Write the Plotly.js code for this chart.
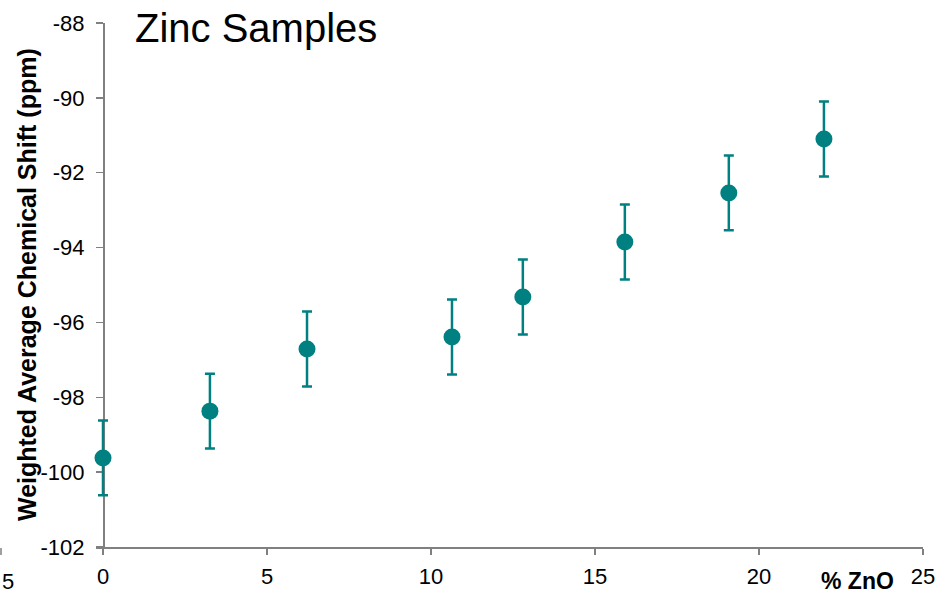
<!DOCTYPE html>
<html><head><meta charset="utf-8">
<script src="https://cdn.plot.ly/plotly-3.0.1.min.js"></script>
<style>html,body{margin:0;padding:0;background:#fff}#chart{width:938px;height:598px}</style>
</head><body><div id="chart"></div>
<script>
const znoPercent = [0, 3.26, 6.22, 10.64, 12.8, 15.91, 19.08, 21.98];
const chemShift = [-99.62, -98.37, -96.71, -96.39, -95.32, -93.85, -92.54, -91.1];
const shiftError = [1, 1, 1, 1, 1, 1, 1, 1];
const xTicks = [0, 5, 10, 15, 20, 25];
const yTicks = [-102, -100, -98, -96, -94, -92, -90, -88];

const teal = '#008080';
const trace = {
  x: znoPercent, y: chemShift, type: 'scatter', mode: 'markers',
  marker: {color: teal, size: 17},
  error_y: {type: 'data', array: shiftError, visible: true, color: teal, thickness: 2.5, width: 5},
  cliponaxis: false,
  hoverinfo: 'x+y'
};
const L = 96, W = 938 - 15 - L;           // plot area left and width in px
const px = p => (p - L) / W;               // pixel -> paper x
const font = {family: 'Liberation Sans, Arial, sans-serif', color: '#000'};
const layout = {
  width: 938, height: 598,
  margin: {l: L, r: 15, t: 23, b: 51, pad: 0},
  paper_bgcolor: '#fff', plot_bgcolor: '#fff',
  showlegend: false,
  font: Object.assign({size: 22}, font),
  xaxis: {
    range: [-175 / 820, 25], tickvals: xTicks, ticktext: xTicks.map(String),
    showgrid: false, zeroline: false, showline: true, linecolor: '#808080', linewidth: 1.5,
    ticks: 'outside', ticklen: 6, tickcolor: '#808080', tickwidth: 1.5, ticklabelstandoff: 3,
    tickfont: Object.assign({size: 22}, font), fixedrange: true, layer: 'below traces'
  },
  yaxis: {
    range: [-102, -88], tickvals: yTicks, ticktext: yTicks.map(String),
    anchor: 'free', position: px(103),
    showgrid: false, zeroline: false, showline: true, linecolor: '#808080', linewidth: 1.5,
    ticks: 'outside', ticklen: 7, tickcolor: '#808080', tickwidth: 1.5, ticklabelstandoff: 7,
    tickfont: Object.assign({size: 22}, font),
    fixedrange: true, layer: 'below traces'
  },
  annotations: [
    {text: 'Zinc Samples', xref: 'paper', yref: 'paper', x: px(133), y: 1.0, xanchor: 'left', yanchor: 'middle',
     yshift: -5, showarrow: false, font: Object.assign({size: 40}, font)},
    {text: '<b>Weighted Average Chemical Shift (ppm)</b>', xref: 'paper', yref: 'paper', x: px(27), y: 0.5,
     xanchor: 'center', yanchor: 'middle', textangle: -90, showarrow: false, font: Object.assign({size: 25}, font)},
    {text: '<b>% ZnO</b>', xref: 'paper', yref: 'paper', x: px(857), y: 0, xanchor: 'center', yanchor: 'top',
     yshift: -19, showarrow: false, font: Object.assign({size: 23}, font)},
    {text: '5', xref: 'paper', yref: 'paper', x: px(8), y: 0, xanchor: 'center', yanchor: 'top',
     yshift: -20, showarrow: false, font: Object.assign({size: 22}, font)}
  ],
  shapes: [
    {type: 'line', xref: 'paper', yref: 'paper', x0: px(1), x1: px(1), y0: -1 / 524, y1: -8 / 524,
     line: {color: '#808080', width: 1.5}}
  ]
};
Plotly.newPlot('chart', [trace], layout, {displayModeBar: false, staticPlot: true});
</script></body></html>
